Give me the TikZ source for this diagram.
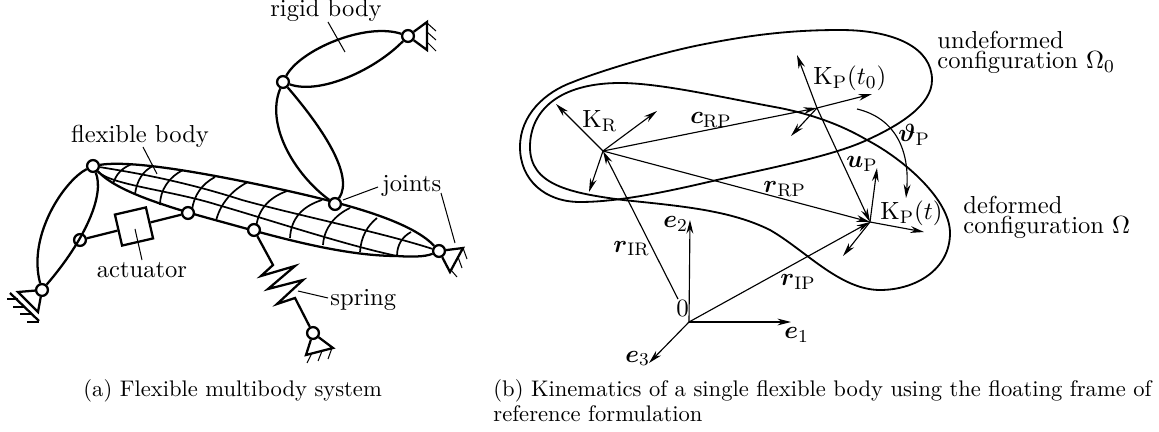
\documentclass[tikz,border=0pt]{standalone}
\usepackage{amsmath,amssymb}
\usetikzlibrary{arrows.meta,backgrounds}

\begin{document}
\begin{tikzpicture}[
  x=0.44pt,y=-0.44pt,
  >={Stealth[length=6pt,width=3pt]},
  joint/.style={circle,draw,fill=white,line width=1pt,minimum size=5.2pt,inner sep=0pt},
  actbox/.style={draw,fill=white,line width=1pt,minimum size=14pt,inner sep=0pt,rotate=13},
  link/.style={line width=1pt},
  mesh/.style={line width=0.75pt},
  leader/.style={line width=0.45pt},
  contour/.style={line width=0.8pt},
  vect/.style={->,line width=0.5pt},
  lab/.style={anchor=base,inner sep=0pt,font=\fontsize{10.8}{13}\selectfont},
  labw/.style={anchor=base west,inner sep=0pt,font=\fontsize{10.8}{13}\selectfont},
  labtwo/.style={anchor=north west,inner sep=0pt,align=left,font=\fontsize{10.8}{13}\selectfont},
  caption/.style={anchor=base west,inner sep=0pt,font=\fontsize{9.93}{12}\selectfont}
]
  \useasboundingbox (0,0) rectangle (1159,432);

  % multibody system
  \node[joint] (j1) at (408,36) {};
  \node[joint] (j2) at (283,82) {};
  \node[joint] (j3) at (335,204) {};
  \node[joint] (j4) at (93,166) {};
  \node[joint] (j5) at (188,213) {};
  \node[joint] (j6) at (254,230) {};
  \node[joint] (j7) at (439,251) {};
  \node[joint] (j8) at (80,240) {};
  \node[joint] (j9) at (42,290) {};
  \node[joint] (j10) at (313,333) {};
  \node[actbox] (act) at (134,226.5) {};

  \draw[link] (j2) .. controls (300,50) and (365,22) .. (j1);
  \draw[link] (j2) .. controls (320,95) and (375,70) .. (j1);
  \draw[link] (j2) .. controls (265,125) and (295,175) .. (j3);
  \draw[link] (j2) .. controls (320,125) and (355,175) .. (j3);
  \draw[link] (j4) .. controls (65,180) and (27,235) .. (j9);
  \draw[link] (j4) .. controls (105,195) and (85,240) .. (j9);
  \draw[link] (j8) -- (act);
  \draw[link] (act) -- (j5);
  \draw[link,line join=miter] (j6) -- (273,265) -- (261,276) -- (295,266) -- (268,289)
    -- (303,280) -- (277,304) -- (295,298) -- (j10);

  % flexible body
  \begin{scope}[on background layer]
    \draw[link] (j4) .. controls (130,160) and (200,172) .. (270,187)
      .. controls (340,202) and (410,220) .. (j7);
    \draw[link] (j4) .. controls (115,190) and (160,205) .. (215,220)
      .. controls (270,235) and (340,256) .. (397,256)
      .. controls (410,257) and (425,257) .. (j7);
    \draw[mesh] (j4) .. controls (130,172) and (180,180) .. (242,200)
      .. controls (300,216) and (380,232) .. (j7);
    \draw[mesh] (j4) .. controls (110,185) and (170,190) .. (218,205)
      .. controls (270,220) and (345,245) .. (397,256);
    \draw[mesh] (113,184) .. controls (116,174) and (122,168) .. (132,164);
    \draw[mesh] (135,194) .. controls (137,180) and (143,171) .. (153,166);
    \draw[mesh] (160,205) .. controls (160,190) and (169,177) .. (183,170);
    \draw[mesh] (192,210) .. controls (194,195) and (202,184) .. (215,177);
    \draw[mesh] (216,221) .. controls (220,204) and (232,190) .. (248,182);
    \draw[mesh] (256,228) .. controls (258,210) and (268,198) .. (287,191);
    \draw[mesh] (290,238) .. controls (291,218) and (303,206) .. (322,200);
    \draw[mesh] (323,245) .. controls (324,228) and (335,215) .. (350,208);
    \draw[mesh] (360,252) .. controls (361,237) and (367,226) .. (377,218);
    \draw[mesh] (397,256) .. controls (397,245) and (402,237) .. (411,232);
  \end{scope}

  % supports
  \draw[link,line join=miter] (j1) -- (427,22) -- (427,50) -- (j1);
  \draw[leader] (427,23) -- (436,31) (427,32) -- (436,40) (427,42) -- (436,51);
  \draw[link,line join=miter] (j7) -- (463,248) -- (450,272) -- (j7);
  \draw[leader] (463,248) -- (467,259) (458,257) -- (462,268) (451,270) -- (457,277);
  \draw[link,line join=miter] (j10) -- (333,348) -- (306,355) -- (j10);
  \draw[leader] (332,348) -- (328,359) (322,351) -- (318,361) (312,353) -- (307,363);
  \draw[link,line join=miter] (j9) -- (18,292) -- (38,312) -- (j9);
  \draw[link] (10,293) -- (39,321);
  \draw[leader] (7,299) -- (18,299) (13,307) -- (25,307) (20,314) -- (32,314) (27,322) -- (39,322);

  % labels left
  \node[lab] (lrigid) at (326,17) {rigid body};
  \node[lab] (lflex) at (140,143) {flexible body};
  \node[labw] (ljoints) at (382,192) {joints};
  \node[lab] (lact) at (142,277) {actuator};
  \node[labw] (lspring) at (330,305) {spring};
  \coordinate (a1) at (328,22);
  \coordinate (a2) at (345,52);
  \coordinate (b1) at (143,147);
  \coordinate (b2) at (157,174);
  \coordinate (c1) at (378,187);
  \coordinate (c2) at (343,200);
  \coordinate (d1) at (441,193);
  \coordinate (d2) at (455,243);
  \coordinate (e1) at (142,260);
  \coordinate (e2) at (135,229);
  \coordinate (f1) at (328,298);
  \coordinate (f2) at (298,291);
  \draw[leader] (a1) -- (a2);
  \draw[leader] (b1) -- (b2);
  \draw[leader] (c1) -- (c2);
  \draw[leader] (d1) -- (d2);
  \draw[leader] (e1) -- (e2);
  \draw[leader] (f1) -- (f2);

  % undeformed and deformed contour
  \draw[contour] (520,147) .. controls (520,115) and (545,92) .. (573,82)
    .. controls (600,71) and (660,53) .. (700,45)
    .. controls (750,35) and (790,30) .. (840,30)
    .. controls (895,30) and (932,48) .. (932,80)
    .. controls (932,105) and (900,125) .. (867,140)
    .. controls (835,155) and (780,166) .. (717,180)
    .. controls (670,191) and (620,202) .. (580,202)
    .. controls (545,202) and (520,180) .. (520,147) -- cycle;
  \draw[contour] (530,147) .. controls (530,110) and (560,83) .. (620,83)
    .. controls (660,83) and (720,97) .. (780,108)
    .. controls (810,114) and (840,124) .. (867,140)
    .. controls (905,160) and (950,200) .. (950,233)
    .. controls (950,270) and (915,290) .. (880,290)
    .. controls (840,290) and (805,250) .. (770,230)
    .. controls (730,210) and (680,206) .. (623,200)
    .. controls (570,193) and (530,185) .. (530,147) -- cycle;

  % frames and vectors
  \coordinate (O) at (689,322);
  \coordinate (Os) at (678,299);
  \coordinate (R) at (603,151);
  \coordinate (Q) at (817,108);
  \coordinate (P) at (870,222);
  \coordinate (e1t) at (791,322);
  \coordinate (e2t) at (690,220);
  \coordinate (e3t) at (649,363);
  \coordinate (r1) at (556,104);
  \coordinate (r2) at (657,111);
  \coordinate (r3) at (589,192);
  \coordinate (q1) at (872,94);
  \coordinate (q2) at (791,136);
  \coordinate (q3) at (797,55);
  \coordinate (p1) at (924,232);
  \coordinate (p2) at (843,256);
  \coordinate (p3) at (877,168);
  \coordinate (t1) at (857,109);
  \coordinate (t2) at (906,198);

  \draw[vect] (O) -- (e1t);
  \draw[vect] (O) -- (e2t);
  \draw[vect] (O) -- (e3t);
  \draw[vect] (Os) -- (R);
  \draw[vect] (O) -- (P);
  \draw[vect] (R) -- (r1);
  \draw[vect] (R) -- (r2);
  \draw[vect] (R) -- (r3);
  \draw[vect] (R) -- (Q);
  \draw[vect] (R) -- (P);
  \draw[vect] (Q) -- (q1);
  \draw[vect] (Q) -- (q2);
  \draw[vect] (Q) -- (q3);
  \draw[vect] (Q) -- (P);
  \draw[vect] (P) -- (p1);
  \draw[vect] (P) -- (p2);
  \draw[vect] (P) -- (p3);
  \draw[vect] (t1) .. controls (895,118) and (910,150) .. (t2);

  % labels right
  \node[labw] (lKR) at (582,128) {$\mathrm{K}_\mathrm{R}$};
  \node[labw] (lcRP) at (690,124) {$\boldsymbol{c}_\mathrm{RP}$};
  \node[labw] (lrRP) at (763,193) {$\boldsymbol{r}_\mathrm{RP}$};
  \node[labw] (lKP0) at (813,85) {$\mathrm{K}_\mathrm{P}(t_0)$};
  \node[labw] (lth) at (898,142) {$\boldsymbol{\vartheta}_\mathrm{P}$};
  \node[labw] (luP) at (846,168) {$\boldsymbol{u}_\mathrm{P}$};
  \node[labw] (lKP) at (880,220) {$\mathrm{K}_\mathrm{P}(t)$};
  \node[labtwo] (lun) at (937,31) {undeformed\\[-4.2pt]configuration $\Omega_0$};
  \node[labtwo] (lde) at (963,196) {deformed\\[-4.2pt]configuration $\Omega$};
  \node[labw] (le2) at (663,228) {$\boldsymbol{e}_2$};
  \node[labw] (lrIR) at (613,252) {$\boldsymbol{r}_\mathrm{IR}$};
  \node[labw] (lzero) at (676,317) {$0$};
  \node[labw] (lrIP) at (780,286) {$\boldsymbol{r}_\mathrm{IP}$};
  \node[labw] (le1) at (784,339) {$\boldsymbol{e}_1$};
  \node[labw] (le3) at (625,362) {$\boldsymbol{e}_3$};

  % captions
  \node[caption] (capa) at (83,396.5) {(a) Flexible multibody system};
  \node[caption] (capb) at (493,396.5) {(b) Kinematics of a single flexible body using the floating frame of};
  \node[caption] (capc) at (493,421.5) {reference formulation};
\end{tikzpicture}
\end{document}
